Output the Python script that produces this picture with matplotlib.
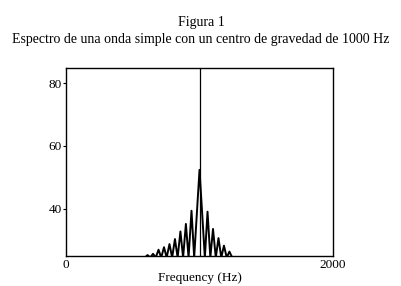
import numpy as np
import matplotlib.pyplot as plt

plt.rcParams['font.family'] = ['Liberation Serif', 'DejaVu Serif']

# spectrum: lobe peaks (Hz, dB) and the nulls between them
center_freq = 1000
center_level = 52.4
peak_freqs = [611, 652, 693, 734, 775, 816, 857, 898, 940,
              1060, 1101, 1142, 1183, 1224]
peak_levels = [25.3, 25.7, 27.0, 27.8, 28.8, 30.4, 32.8, 35.2, 39.4,
               39.1, 33.6, 30.7, 28.3, 26.4]
null_freqs = [590, 631, 672, 713, 754, 795, 836, 877, 918, 960,
              1040, 1081, 1122, 1163, 1204, 1245]
floor_level = 24.5

x_ticks = [0, 2000]
y_ticks = [40, 60, 80]

# build polyline: nulls at floor, peaks in between
pts = [(f, floor_level) for f in null_freqs]
pts += list(zip(peak_freqs, peak_levels))
pts.append((center_freq, center_level))
pts.sort()
xs = [p[0] for p in pts]
ys = [p[1] for p in pts]

fig = plt.figure(figsize=(4.02, 2.86), dpi=100)
ax = fig.add_axes([0.1642, 0.1049, 0.6642, 0.6573])

ax.plot(xs, ys, color='black', linewidth=1.4, solid_joinstyle='round')
ax.axvline(center_freq, color='black', linewidth=0.9)

ax.set_xlim(0, 2000)
ax.set_ylim(25, 84.8)
ax.set_xticks(x_ticks)
ax.set_yticks(y_ticks)
ax.tick_params(axis='x', length=0, pad=2, labelsize=9.5)
ax.tick_params(axis='y', length=2, pad=1, labelsize=9.5, width=0.8)
for s in ax.spines.values():
    s.set_linewidth(1.0)

ax.set_xlabel("Frequency (Hz)", fontsize=9.5, labelpad=1)

fig.text(0.5, 0.9196, "Figura 1", ha='center', va='center', fontsize=10)
fig.text(0.5, 0.8636, "Espectro de una onda simple con un centro de gravedad de 1000 Hz",
         ha='center', va='center', fontsize=10)

plt.savefig("out.png", dpi=100)
